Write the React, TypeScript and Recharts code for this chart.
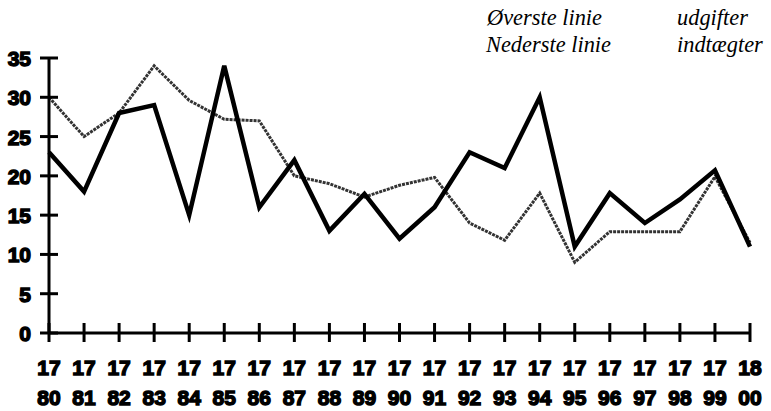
import * as React from 'react';
import { LineChart, Line, XAxis, YAxis } from 'recharts';

const years = [
  '1780', '1781', '1782', '1783', '1784', '1785', '1786', '1787', '1788', '1789', '1790',
  '1791', '1792', '1793', '1794', '1795', '1796', '1797', '1798', '1799', '1800',
];
const udgifter = [23, 18, 28, 29, 15, 34, 16, 22, 13, 17.7, 12, 16, 23, 21, 30, 11, 17.8, 14, 17, 20.7, 11];
const indtaegter = [30, 25, 28, 34, 29.6, 27.2, 27, 20, 19, 17.3, 18.8, 19.8, 14, 11.8, 17.8, 9, 12.9, 12.9, 12.9, 19.9, 11.5];
const yTicks = [0, 5, 10, 15, 20, 25, 30, 35];

const data = years.map((year, i) => ({
  year,
  udgifter: udgifter[i],
  indtaegter: indtaegter[i],
}));

const labelFont = {
  fontFamily: '"Liberation Sans", Arial, sans-serif',
  fontWeight: 700,
  fontSize: 21,
};

function YearTick(props: any) {
  const { x, y, payload } = props;
  const v = String(payload.value);
  return (
    <g>
      <line x1={x} x2={x} y1={y - 10} y2={y + 9} stroke="#000" strokeWidth={3} />
      <text x={x} y={y + 42} textAnchor="middle" fill="#000" stroke="#000" strokeWidth={1.4} style={labelFont}>
        {v.slice(0, 2)}
      </text>
      <text x={x} y={y + 72} textAnchor="middle" fill="#000" stroke="#000" strokeWidth={1.4} style={labelFont}>
        {v.slice(2)}
      </text>
    </g>
  );
}

function ValueTick(props: any) {
  const { x, y, payload } = props;
  return (
    <g>
      <line x1={x - 9} x2={x + 9} y1={y} y2={y} stroke="#000" strokeWidth={3} />
      <text x={x - 18} y={y + 8} textAnchor="end" fill="#000" stroke="#000" strokeWidth={1.4} style={labelFont}>
        {payload.value}
      </text>
    </g>
  );
}

const legendStyle: React.CSSProperties = {
  position: 'absolute',
  fontFamily: '"Liberation Serif", "DejaVu Serif", serif',
  fontStyle: 'italic',
  fontSize: 22.4,
  lineHeight: '22px',
  color: '#000',
  whiteSpace: 'nowrap',
};

export default function App() {
  return (
    <div style={{ position: 'absolute', left: 0, top: 0, width: 771, height: 411, background: '#fff' }}>
      <LineChart width={771} height={411} data={data} margin={{ top: 58, right: 21, left: 0, bottom: 8 }}>
        <XAxis
          dataKey="year"
          interval={0}
          height={70}
          tickSize={0}
          tickMargin={0}
          tick={<YearTick />}
          axisLine={{ stroke: '#000', strokeWidth: 3 }}
          tickLine={false}
        />
        <YAxis
          domain={[0, 35]}
          ticks={yTicks}
          width={49}
          tickSize={0}
          tickMargin={0}
          tick={<ValueTick />}
          axisLine={{ stroke: '#000', strokeWidth: 3 }}
          tickLine={false}
        />
        <Line
          dataKey="indtaegter"
          type="linear"
          stroke="#333"
          strokeWidth={3}
          strokeDasharray="3 1"
          dot={false}
          isAnimationActive={false}
        />
        <Line
          dataKey="udgifter"
          type="linear"
          stroke="#000"
          strokeWidth={4.5}
          strokeLinejoin="miter"
          dot={false}
          isAnimationActive={false}
        />
      </LineChart>
      <div style={{ ...legendStyle, left: 487, top: 7 }}>Øverste linie</div>
      <div style={{ ...legendStyle, left: 677, top: 7 }}>udgifter</div>
      <div style={{ ...legendStyle, left: 486, top: 34 }}>Nederste linie</div>
      <div style={{ ...legendStyle, left: 677, top: 34 }}>indtægter</div>
    </div>
  );
}
